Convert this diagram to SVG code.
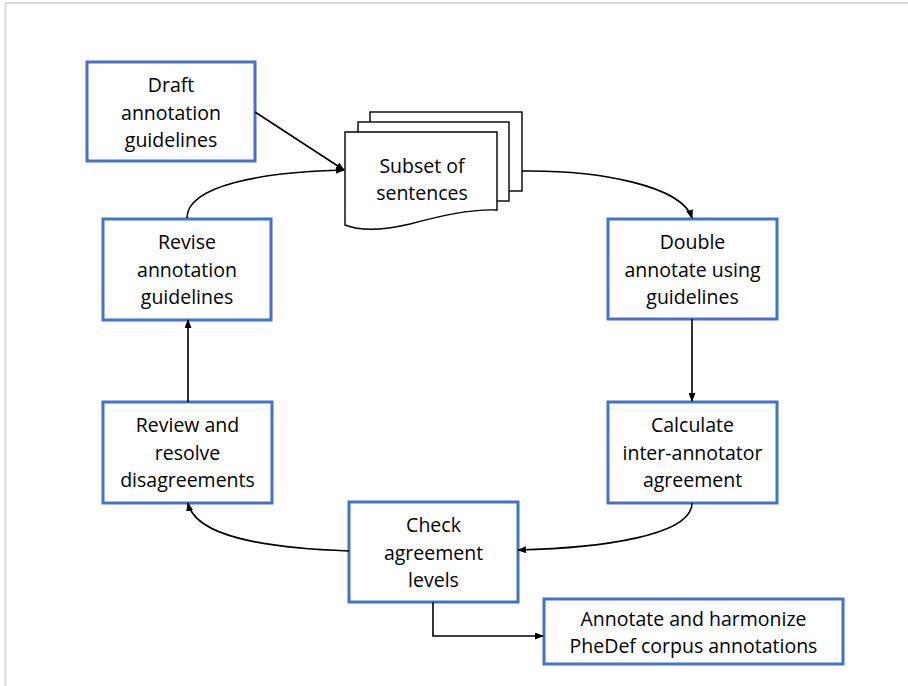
<svg xmlns="http://www.w3.org/2000/svg" width="908" height="686" viewBox="0 0 908 686">
<style>
.box{fill:#fff;stroke:#4472C4;stroke-width:3}
.page{fill:#fff;stroke:#000;stroke-width:1.4}
.lbl{font-family:"Open Sans","Liberation Sans",sans-serif;font-size:19.5px;fill:#000;text-anchor:middle}
.con{fill:none;stroke:#000;stroke-width:1.6}
.frame{stroke:#d9d9d9;stroke-width:2;fill:none}
</style>
<defs>
<marker id="arr" markerWidth="9" markerHeight="7" refX="8" refY="3.5" orient="auto" markerUnits="userSpaceOnUse">
<path d="M0,0 L9,3.5 L0,7 z" fill="#000"/>
</marker>
</defs>
<rect width="908" height="686" fill="#fff"/>
<path class="frame" d="M5.5,686 V3 H908"/>

<g id="draft">
<rect class="box" x="87" y="62" width="168" height="99"/>
<text class="lbl" x="171" y="92">Draft</text>
<text class="lbl" x="171" y="119.5">annotation</text>
<text class="lbl" x="171" y="147">guidelines</text>
</g>

<g id="subset">
<rect class="page" x="370" y="112" width="152" height="79"/>
<rect class="page" x="358" y="122" width="151" height="79"/>
<path class="page" d="M345,132 H497 V210 C470,209 440,216 410,224 C380,231 360,231 345,225 Z"/>
<text class="lbl" x="422" y="173">Subset of</text>
<text class="lbl" x="422" y="200">sentences</text>
</g>

<g id="double">
<rect class="box" x="608" y="219" width="169" height="100"/>
<text class="lbl" x="692.5" y="249">Double</text>
<text class="lbl" x="692.5" y="276.5">annotate using</text>
<text class="lbl" x="692.5" y="304">guidelines</text>
</g>

<g id="calculate">
<rect class="box" x="608" y="402" width="169" height="101"/>
<text class="lbl" x="692.5" y="432">Calculate</text>
<text class="lbl" x="692.5" y="459.5">inter-annotator</text>
<text class="lbl" x="692.5" y="487">agreement</text>
</g>

<g id="check">
<rect class="box" x="349" y="502" width="169" height="100"/>
<text class="lbl" x="433.5" y="532">Check</text>
<text class="lbl" x="433.5" y="559.5">agreement</text>
<text class="lbl" x="433.5" y="587">levels</text>
</g>

<g id="review">
<rect class="box" x="103" y="402" width="169" height="101"/>
<text class="lbl" x="187.5" y="432">Review and</text>
<text class="lbl" x="187.5" y="459.5">resolve</text>
<text class="lbl" x="187.5" y="487">disagreements</text>
</g>

<g id="revise">
<rect class="box" x="103" y="219" width="168" height="101"/>
<text class="lbl" x="187" y="249">Revise</text>
<text class="lbl" x="187" y="276.5">annotation</text>
<text class="lbl" x="187" y="304">guidelines</text>
</g>

<g id="annotate">
<rect class="box" x="544" y="599" width="299" height="65"/>
<text class="lbl" x="693.5" y="626">Annotate and harmonize</text>
<text class="lbl" x="693.5" y="653">PheDef corpus annotations</text>
</g>

<g id="connectors">
<path class="con" d="M255,112 L344,170" marker-end="url(#arr)"/>
<path class="con" d="M187,218 C187,186 260,172 344,170" marker-end="url(#arr)"/>
<path class="con" d="M522,171 C600,170 682,186 692,218" marker-end="url(#arr)"/>
<path class="con" d="M692,319 V401" marker-end="url(#arr)"/>
<path class="con" d="M692,503 C692,536 600,548 518,550" marker-end="url(#arr)"/>
<path class="con" d="M349,551 C262,548 195,536 188,503" marker-end="url(#arr)"/>
<path class="con" d="M188,402 V320" marker-end="url(#arr)"/>
<path class="con" d="M433,602 V636 H543" marker-end="url(#arr)"/>
</g>
</svg>
